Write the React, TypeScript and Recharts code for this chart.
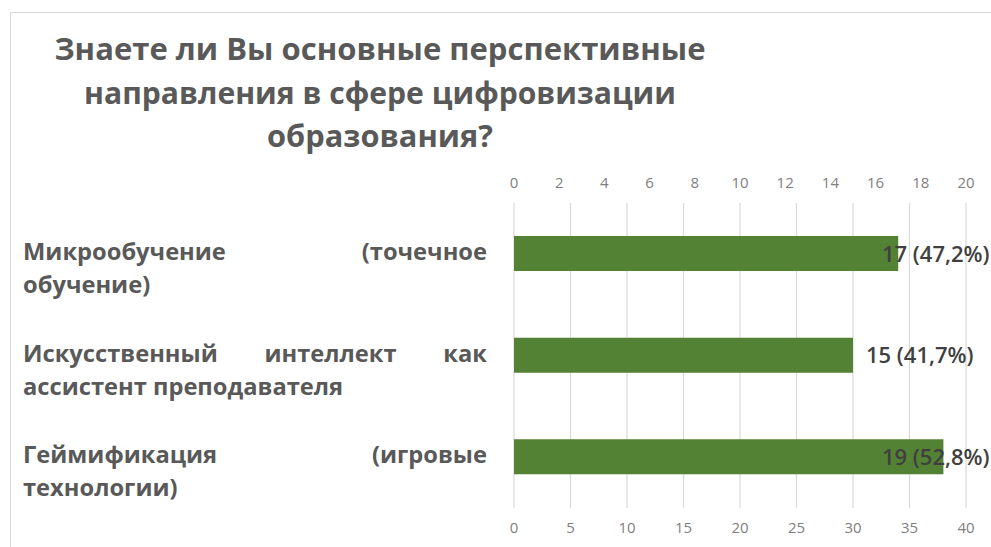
import React from "react";
import { ComposedChart, Bar, Line, XAxis, YAxis, CartesianGrid, LabelList } from "recharts";

const categories = [
  "Микрообучение (точечное обучение)",
  "Искусственный интеллект как ассистент преподавателя",
  "Геймификация (игровые технологии)",
];
const labelLines = [
  ["Микрообучение (точечное", "обучение)"],
  ["Искусственный интеллект как", "ассистент преподавателя"],
  ["Геймификация (игровые", "технологии)"],
];
const counts = [17, 15, 19];
const percents = ["47,2%", "41,7%", "52,8%"];
const topTicks = [0, 2, 4, 6, 8, 10, 12, 14, 16, 18, 20];
const bottomTicks = [0, 5, 10, 15, 20, 25, 30, 35, 40];
const titleLines = [
  "Знаете ли Вы основные перспективные",
  "направления в сфере цифровизации",
  "образования?",
];
const titleWidths = [651, 592, 226];

const data = categories.map((name, i) => ({
  name,
  value: counts[i],
  label: `${counts[i]} (${percents[i]})`,
}));

const TEXT = "#595959";
const LABEL_SIZE = 23.7;
const LABEL_FONT = `700 ${LABEL_SIZE}px 'Open Sans'`;

let canvasCtx: CanvasRenderingContext2D | null = null;
function measure(text: string, font: string): number {
  if (!canvasCtx) {
    const c = document.createElement("canvas");
    canvasCtx = c.getContext("2d");
  }
  if (!canvasCtx) return text.length * 12;
  canvasCtx.font = font;
  return canvasCtx.measureText(text).width;
}

const LEFT = 23;
const RIGHT = 487;

function CategoryTick(props: any) {
  const { y, payload } = props;
  const idx = categories.indexOf(payload.value);
  const lines = labelLines[idx] || [payload.value];
  return (
    <g>
      {lines.map((line, li) => {
        const baseline = y + 6 + li * 33;
        const justify = li < lines.length - 1;
        if (!justify) {
          return (
            <text key={li} x={LEFT} y={baseline} fill={TEXT} fontFamily="'Open Sans'" fontWeight={700} fontSize={LABEL_SIZE} textAnchor="start">
              {line}
            </text>
          );
        }
        const words = line.split(" ");
        const widths = words.map((w) => measure(w, LABEL_FONT));
        const total = widths.reduce((a, b) => a + b, 0);
        const gap = words.length > 1 ? (RIGHT - LEFT - total) / (words.length - 1) : 0;
        let cx = LEFT;
        return (
          <g key={li}>
            {words.map((w, wi) => {
              const isLast = wi === words.length - 1 && words.length > 1;
              const el = (
                <text
                  key={wi}
                  x={isLast ? RIGHT : cx}
                  y={baseline}
                  fill={TEXT}
                  fontFamily="'Open Sans'"
                  fontWeight={700}
                  fontSize={LABEL_SIZE}
                  textAnchor={isLast ? "end" : "start"}
                >
                  {w}
                </text>
              );
              cx += widths[wi] + gap;
              return el;
            })}
          </g>
        );
      })}
    </g>
  );
}

function BarLabel(props: any) {
  const { x, y, width, height, index } = props;
  const text = data[index].label;
  const tx = Math.min(x + width + 13, 882);
  return (
    <text x={tx} y={y + height / 2 + 8} fill="#404040" fontFamily="'Open Sans'" fontWeight={600} fontSize={22} textAnchor="start">
      {text}
    </text>
  );
}

const tickStyle = { fill: "#808080", fontSize: 15, fontFamily: "'Open Sans'" };

export default function App() {
  return (
    <div style={{ position: "fixed", left: 0, top: 0, width: 991, height: 547, background: "#ffffff", overflow: "hidden" }}>
      <div
        style={{
          position: "absolute",
          left: 10,
          top: 12,
          width: 1100,
          height: 700,
          borderTop: "1.5px solid #d9d9d9",
          borderLeft: "1.5px solid #d9d9d9",
        }}
      />
      <svg style={{ position: "absolute", left: 0, top: 0 }} width={991} height={170}>
        {titleLines.map((t, i) => (
          <text
            key={i}
            x={380}
            y={60 + i * 43.5}
            textAnchor="middle"
            fill={TEXT}
            fontFamily="'Open Sans'"
            fontWeight={700}
            fontSize={30}
            textLength={titleWidths[i]}
            lengthAdjust="spacingAndGlyphs"
          >
            {t}
          </text>
        ))}
      </svg>
      <div style={{ position: "absolute", left: 0, top: 0 }}>
        <ComposedChart
          width={991}
          height={547}
          data={data}
          layout="vertical"
          margin={{ top: 173, bottom: 9, left: 0, right: 25 }}
          barSize={35}
        >
          <CartesianGrid xAxisId="b" horizontal={false} vertical={true} stroke="#d9d9d9" strokeWidth={1.2} />
          <XAxis
            xAxisId="t"
            orientation="top"
            type="number"
            domain={[0, 20]}
            ticks={topTicks}
            height={30}
            axisLine={false}
            tickLine={false}
            tickMargin={9}
            tick={tickStyle}
            interval={0}
          />
          <XAxis
            xAxisId="b"
            orientation="bottom"
            type="number"
            domain={[0, 40]}
            ticks={bottomTicks}
            height={30}
            axisLine={false}
            tickLine={false}
            tickMargin={8}
            tick={tickStyle}
            interval={0}
          />
          <YAxis
            type="category"
            dataKey="name"
            width={514}
            axisLine={false}
            tickLine={false}
            tick={<CategoryTick />}
            interval={0}
          />
          <Bar dataKey="value" xAxisId="t" fill="#548235" isAnimationActive={false}>
            <LabelList dataKey="value" content={<BarLabel />} />
          </Bar>
          <Line
            dataKey="value"
            xAxisId="b"
            stroke="none"
            dot={false}
            activeDot={false}
            legendType="none"
            isAnimationActive={false}
          />
        </ComposedChart>
      </div>
    </div>
  );
}
